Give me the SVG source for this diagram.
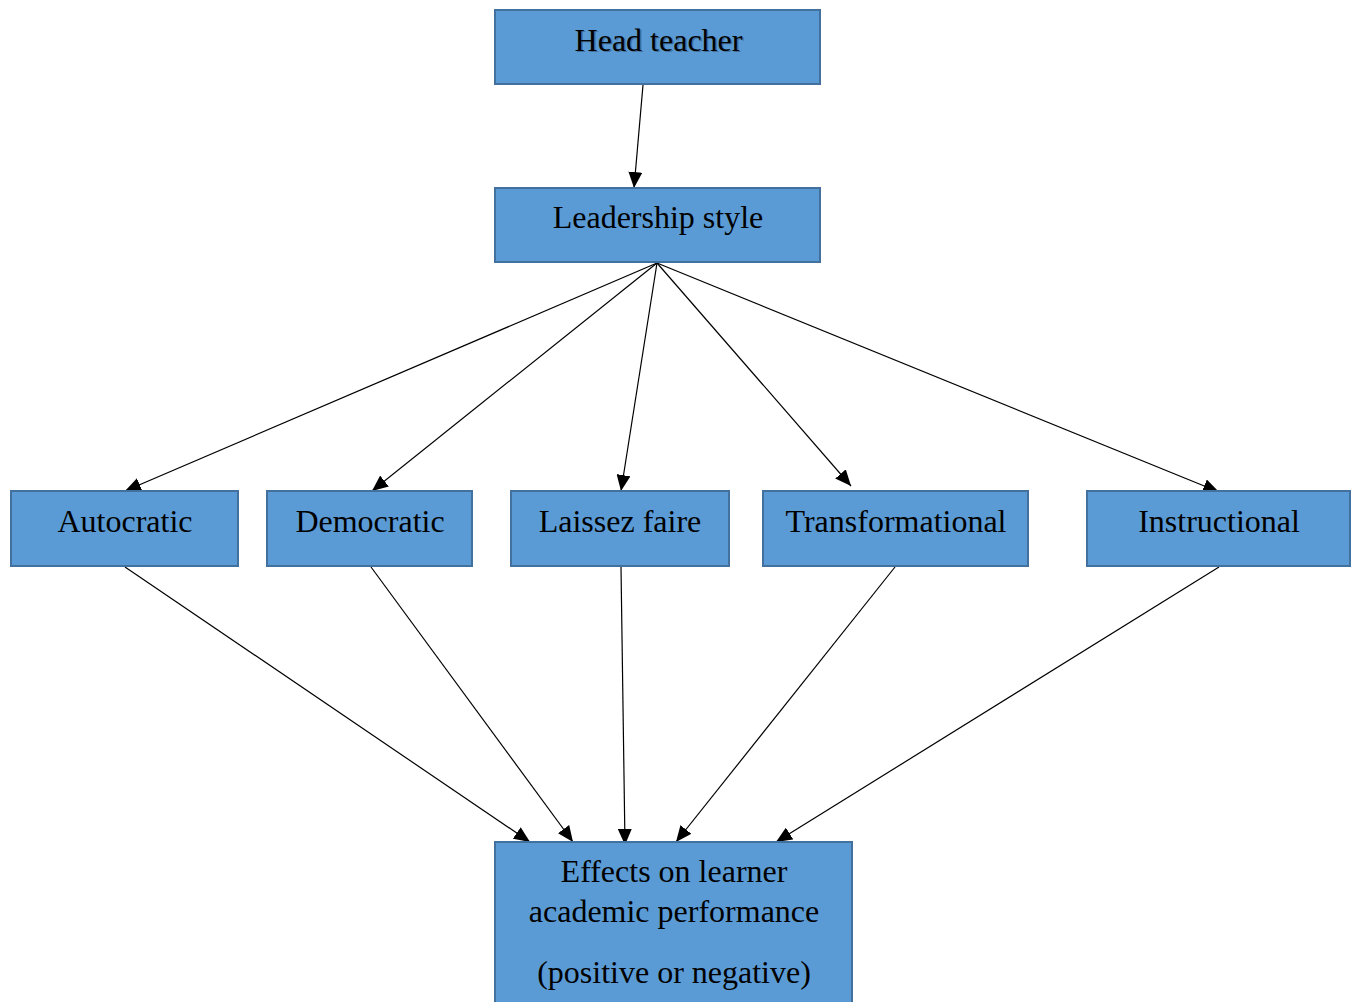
<svg xmlns="http://www.w3.org/2000/svg" width="1357" height="1002" viewBox="0 0 1357 1002">
<style>
.box{fill:#5b9bd5;stroke:#41719c;stroke-width:2}
.t{font-family:'Liberation Serif','Times New Roman',Times,serif;font-size:32px;fill:#000;text-anchor:middle}
.sh{fill:#2e4f6e;opacity:0.55}
.c{stroke:#000;stroke-width:1.2;fill:none;marker-end:url(#ah)}
</style>
<defs>
<marker id="ah" markerUnits="userSpaceOnUse" markerWidth="18" markerHeight="14" refX="16" refY="7" orient="auto">
<path d="M0,0 L16,7 L0,14 Z" fill="#000"/>
</marker>
</defs>
<rect width="1357" height="1002" fill="#fff"/>
<g id="connectors">
<line class="c" x1="643" y1="85" x2="634" y2="188"/>
<line class="c" x1="657" y1="263" x2="125" y2="491"/>
<line class="c" x1="657" y1="263" x2="372" y2="491"/>
<line class="c" x1="657" y1="263" x2="621" y2="491"/>
<line class="c" x1="657" y1="263" x2="851" y2="486"/>
<line class="c" x1="657" y1="263" x2="1219" y2="492"/>
<line class="c" x1="125" y1="567" x2="530" y2="842"/>
<line class="c" x1="371" y1="567" x2="573" y2="842"/>
<line class="c" x1="621" y1="567" x2="625" y2="845"/>
<line class="c" x1="895" y1="567" x2="676" y2="842"/>
<line class="c" x1="1219" y1="567" x2="776" y2="842"/>
</g>
<g id="head-teacher">
<rect class="box" x="495" y="10" width="325" height="74"/>
<text class="t sh" x="660" y="52">Head teacher</text>
<text class="t" x="658.5" y="50.5">Head teacher</text>
</g>
<g id="leadership-style">
<rect class="box" x="495" y="188" width="325" height="74"/>
<text class="t" x="658" y="228">Leadership style</text>
</g>
<g id="autocratic">
<rect class="box" x="11" y="491" width="227" height="75"/>
<text class="t" x="125" y="532">Autocratic</text>
</g>
<g id="democratic">
<rect class="box" x="267" y="491" width="205" height="75"/>
<text class="t" x="370" y="532">Democratic</text>
</g>
<g id="laissez-faire">
<rect class="box" x="511" y="491" width="218" height="75"/>
<text class="t" x="620" y="532">Laissez faire</text>
</g>
<g id="transformational">
<rect class="box" x="763" y="491" width="265" height="75"/>
<text class="t" x="896" y="532">Transformational</text>
</g>
<g id="instructional">
<rect class="box" x="1087" y="491" width="263" height="75"/>
<text class="t" x="1219" y="532">Instructional</text>
</g>
<g id="effects">
<rect class="box" x="495" y="842" width="357" height="170"/>
<text class="t" x="674" y="882">Effects on learner</text>
<text class="t" x="674" y="922">academic performance</text>
<text class="t" x="674" y="983">(positive or negative)</text>
</g>
</svg>
